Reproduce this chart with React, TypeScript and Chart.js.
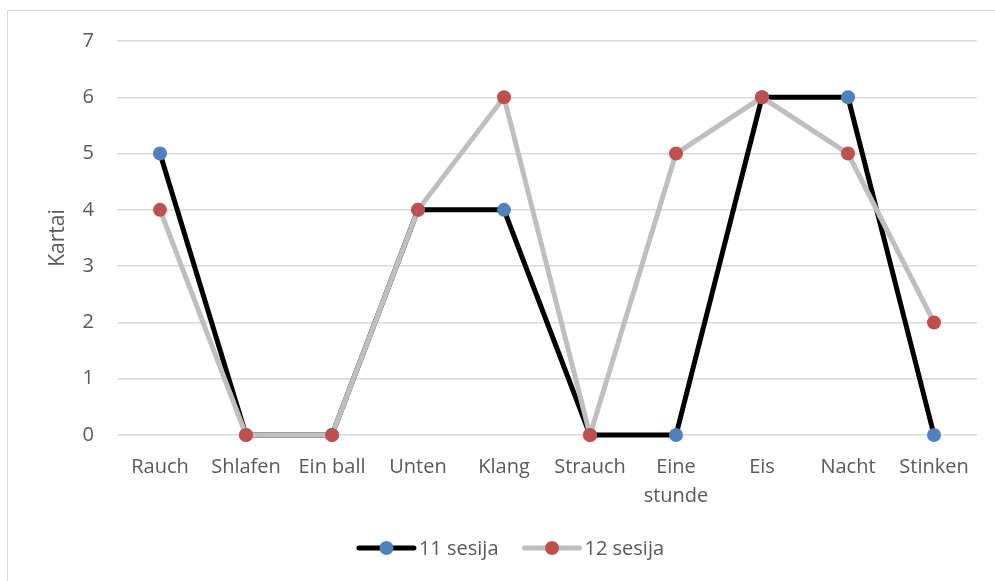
import React, { useEffect, useRef } from "react";
import { Chart, registerables } from "chart.js";

Chart.register(...registerables);

const categories: (string | string[])[] = [
  "Rauch",
  "Shlafen",
  "Ein ball",
  "Unten",
  "Klang",
  "Strauch",
  ["Eine", "stunde"],
  "Eis",
  "Nacht",
  "Stinken",
];
const session11: number[] = [5, 0, 0, 4, 4, 0, 0, 6, 6, 0];
const session12: number[] = [4, 0, 0, 4, 6, 0, 5, 6, 5, 2];
const seriesNames: string[] = ["11 sesija", "12 sesija"];
const yTicks: number[] = [0, 1, 2, 3, 4, 5, 6, 7];

const FONT = "'Open Sans', 'Noto Sans', sans-serif";
const TEXT = "#595959";

// Draws a legend entry as a short line with a marker in its middle, then the label.
const lineLegend = {
  id: "lineLegend",
  afterDraw(chart: any) {
    const ctx = chart.ctx as CanvasRenderingContext2D;
    const ds = chart.data.datasets;
    const y = 548;
    const lineLen = 55;
    const gap = 5;
    const itemGap = 26;
    ctx.save();
    ctx.font = `20px ${FONT}`;
    const widths = ds.map((d: any) => lineLen + gap + ctx.measureText(d.label).width);
    const total = widths.reduce((a: number, b: number) => a + b, 0) + itemGap * (ds.length - 1);
    let x = (chart.width - total) / 2 + 14;
    ds.forEach((d: any, i: number) => {
      ctx.strokeStyle = d.borderColor;
      ctx.lineWidth = d.borderWidth;
      ctx.lineCap = "round";
      ctx.beginPath();
      ctx.moveTo(x, y);
      ctx.lineTo(x + lineLen, y);
      ctx.stroke();
      ctx.fillStyle = d.pointBackgroundColor;
      ctx.beginPath();
      ctx.arc(x + lineLen / 2, y, d.pointRadius, 0, Math.PI * 2);
      ctx.fill();
      ctx.fillStyle = TEXT;
      ctx.textBaseline = "middle";
      ctx.textAlign = "left";
      ctx.fillText(d.label, x + lineLen + gap, y + 1);
      x += widths[i] + itemGap;
    });
    ctx.restore();
  },
};

export default function App() {
  const ref = useRef<HTMLCanvasElement | null>(null);

  useEffect(() => {
    if (!ref.current) return;
    const chart = new Chart(ref.current, {
      type: "line",
      data: {
        labels: categories,
        datasets: [
          {
            label: seriesNames[0],
            data: session11,
            borderColor: "#000000",
            backgroundColor: "#000000",
            borderWidth: 5,
            pointRadius: 7,
            pointHoverRadius: 7,
            pointBorderWidth: 0,
            pointBackgroundColor: "#4F81BD",
            pointBorderColor: "#4F81BD",
            tension: 0,
            clip: false,
            order: 1,
          },
          {
            label: seriesNames[1],
            data: session12,
            borderColor: "#BFBFBF",
            backgroundColor: "#BFBFBF",
            borderWidth: 5,
            pointRadius: 7,
            pointHoverRadius: 7,
            pointBorderWidth: 0,
            pointBackgroundColor: "#C0504D",
            pointBorderColor: "#C0504D",
            tension: 0,
            clip: false,
            order: 0,
          },
        ],
      },
      options: {
        animation: false,
        responsive: false,
        maintainAspectRatio: false,
        layout: { padding: { left: 0, right: 18, top: 41, bottom: 64 } },
        plugins: {
          legend: { display: false },
          tooltip: { enabled: false },
        },
        scales: {
          x: {
            offset: true,
            grid: { display: false, drawTicks: false },
            border: { display: false },
            ticks: {
              color: TEXT,
              font: { family: FONT, size: 20, lineHeight: 1.45 },
              padding: 18,
              maxRotation: 0,
              autoSkip: false,
            },
            afterFit: (s: any) => {
              s.height = 82;
            },
          },
          y: {
            min: 0,
            max: 7,
            afterBuildTicks: (s: any) => {
              s.ticks = yTicks.map((v) => ({ value: v }));
            },
            grid: { color: "#D9D9D9", lineWidth: 1.5, drawTicks: false },
            border: { display: false },
            ticks: {
              color: TEXT,
              font: { family: FONT, size: 20 },
              padding: 23,
            },
            title: {
              display: true,
              text: "Kartai",
              color: TEXT,
              font: { family: FONT, size: 21, weight: "normal" },
              padding: { top: 45, bottom: 0 },
            },
            afterFit: (s: any) => {
              s.width = 117;
            },
          },
        },
      },
      plugins: [lineLegend],
    });
    return () => chart.destroy();
  }, []);

  return (
    <div
      style={{
        position: "fixed",
        left: 0,
        top: 0,
        width: 995,
        height: 581,
        background: "#fff",
        overflow: "hidden",
      }}
    >
      <div
        style={{
          position: "absolute",
          left: 7,
          top: 10,
          width: 1000,
          height: 600,
          border: "1.5px solid #D9D9D9",
        }}
      />
      <canvas
        ref={ref}
        width={995}
        height={581}
        style={{ position: "absolute", left: 0, top: 0, width: 995, height: 581 }}
      />
    </div>
  );
}
